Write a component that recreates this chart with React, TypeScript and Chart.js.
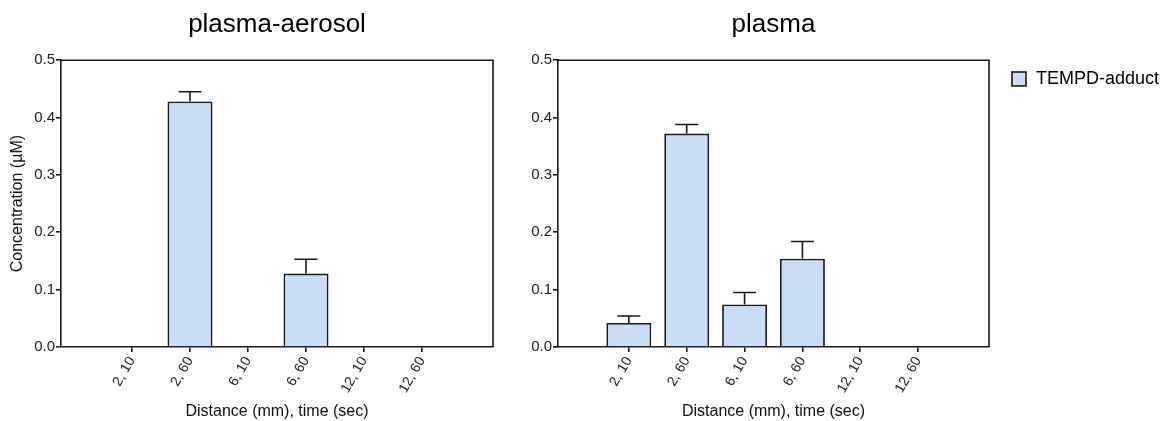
import React, { useEffect, useRef } from 'react';
import { Chart, registerables } from 'chart.js';

Chart.register(...registerables);

const categories = ['2, 10', '2, 60', '6, 10', '6, 60', '12, 10', '12, 60'];
const aerosolMeans = [0, 0.428, 0, 0.128, 0, 0];
const aerosolErrors = [0, 0.017, 0, 0.025, 0, 0];
const plasmaMeans = [0.042, 0.372, 0.074, 0.154, 0, 0];
const plasmaErrors = [0.012, 0.016, 0.021, 0.030, 0, 0];
const yTickValues = [0, 0.1, 0.2, 0.3, 0.4, 0.5];
const seriesLabel = 'TEMPD-adduct';
const panelTitles = ['plasma-aerosol', 'plasma'];
const yAxisTitle = 'Concentration (µM)';
const xAxisTitle = 'Distance (mm), time (sec)';

const FONT = "'Liberation Sans', Arial, Helvetica, sans-serif";
const FILL = 'rgb(201, 221, 246)';
const INK = '#1a1a1a';

Chart.defaults.font.family = FONT;

const errorBarPlugin = {
  id: 'errorBars',
  afterDatasetsDraw(chart: any, _args: any, opts: any) {
    const errs: number[] = opts.errors || [];
    const meta = chart.getDatasetMeta(0);
    const ys = chart.scales.y;
    const ctx = chart.ctx;
    ctx.save();
    ctx.strokeStyle = INK;
    ctx.lineWidth = 1.6;
    meta.data.forEach((bar: any, i: number) => {
      const pt = chart.data.datasets[0].data[i];
      const v = pt.y;
      const e = errs[i];
      if (!e || !v) return;
      const x = bar.x;
      const y0 = ys.getPixelForValue(v);
      const y1 = ys.getPixelForValue(v + e);
      ctx.beginPath();
      ctx.moveTo(x, y0);
      ctx.lineTo(x, y1);
      ctx.moveTo(x - 11.5, y1);
      ctx.lineTo(x + 11.5, y1);
      ctx.stroke();
    });
    ctx.restore();
  },
};

const framePlugin = {
  id: 'frame',
  afterDraw(chart: any) {
    const { left, right, top, bottom } = chart.chartArea;
    const ctx = chart.ctx;
    ctx.save();
    ctx.strokeStyle = INK;
    ctx.lineWidth = 1.6;
    ctx.beginPath();
    ctx.moveTo(left, top);
    ctx.lineTo(right, top);
    ctx.lineTo(right, bottom);
    ctx.stroke();
    ctx.restore();
  },
};

const legendPlugin = {
  id: 'sideLegend',
  afterDraw(chart: any, _args: any, opts: any) {
    if (!opts || !opts.show) return;
    const ds = chart.data.datasets[0];
    const ctx = chart.ctx;
    const right = chart.chartArea.right;
    const bx = right + opts.offsetX;
    const by = opts.y;
    const s = opts.size;
    ctx.save();
    ctx.fillStyle = ds.backgroundColor;
    ctx.fillRect(bx, by, s, s);
    ctx.strokeStyle = ds.borderColor;
    ctx.lineWidth = 1.6;
    ctx.strokeRect(bx, by, s, s);
    ctx.fillStyle = '#000';
    ctx.font = `${opts.fontSize}px ${FONT}`;
    ctx.textBaseline = 'middle';
    ctx.textAlign = 'left';
    ctx.fillText(ds.label, bx + s + 10, by + s / 2 + 0.5);
    ctx.restore();
  },
};

function makeConfig(
  title: string,
  means: number[],
  errors: number[],
  yWidth: number,
  showYTitle: boolean,
  padRight: number,
  showLegend: boolean
): any {
  const span = 432 / 58;
  const extra = (span - (categories.length - 1)) / 2;
  return {
    type: 'bar',
    data: {
      datasets: [
        {
          label: seriesLabel,
          data: means.map((v, i) => ({ x: i, y: v })),
          backgroundColor: FILL,
          borderColor: INK,
          borderWidth: 1.8,
          borderSkipped: 'start',
          barPercentage: 0.776,
          categoryPercentage: 1,
        },
      ],
    },
    options: {
      responsive: false,
      animation: false,
      layout: { padding: { left: 0, right: padRight, top: 0, bottom: 0 } },
      plugins: {
        legend: { display: false },
        tooltip: { enabled: false },
        title: {
          display: true,
          text: title,
          fullSize: false,
          color: '#000',
          font: { size: 26, weight: 'normal', family: FONT },
          padding: { top: 9, bottom: 20 },
        },
        errorBars: { errors },
        sideLegend: { show: showLegend, offsetX: 23, y: 72, size: 14, fontSize: 18 },
      },
      scales: {
        x: {
          type: 'linear',
          offset: false,
          min: -extra,
          max: categories.length - 1 + extra,
          afterBuildTicks: (scale: any) => {
            scale.ticks = categories.map((_, i) => ({ value: i }));
          },
          afterFit: (scale: any) => {
            scale.height = 74;
          },
          ticks: {
            autoSkip: false,
            minRotation: 60,
            maxRotation: 60,
            padding: 2,
            color: '#222',
            font: { size: 14 },
            callback: (v: number) => categories[Math.round(v)] ?? '',
          },
          grid: {
            display: true,
            offset: false,
            drawOnChartArea: false,
            drawTicks: true,
            tickLength: 5,
            color: INK,
            lineWidth: 1.6,
          },
          border: { display: true, color: INK, width: 1.6 },
          title: {
            display: true,
            text: xAxisTitle,
            color: '#111',
            font: { size: 16 },
            padding: { top: 0, bottom: 0 },
          },
        },
        y: {
          type: 'linear',
          min: 0,
          max: 0.5,
          afterBuildTicks: (scale: any) => {
            scale.ticks = yTickValues.map((v) => ({ value: v }));
          },
          afterFit: (scale: any) => {
            scale.width = yWidth;
          },
          ticks: {
            padding: 1,
            color: '#222',
            font: { size: 15 },
            callback: (v: number) => Number(v).toFixed(1),
          },
          grid: {
            display: true,
            drawOnChartArea: false,
            drawTicks: true,
            tickLength: 5,
            color: INK,
            lineWidth: 1.6,
          },
          border: { display: true, color: INK, width: 1.6 },
          title: {
            display: showYTitle,
            text: yAxisTitle,
            color: '#111',
            font: { size: 16 },
            padding: { top: 8, bottom: 0 },
          },
        },
      },
    },
    plugins: [errorBarPlugin, framePlugin, legendPlugin],
  };
}

export default function App() {
  const leftRef = useRef<HTMLCanvasElement | null>(null);
  const rightRef = useRef<HTMLCanvasElement | null>(null);

  useEffect(() => {
    const c1 = new Chart(
      leftRef.current as HTMLCanvasElement,
      makeConfig(panelTitles[0], aerosolMeans, aerosolErrors, 61, true, 27, false)
    );
    const c2 = new Chart(
      rightRef.current as HTMLCanvasElement,
      makeConfig(panelTitles[1], plasmaMeans, plasmaErrors, 38, false, 175, true)
    );
    return () => {
      c1.destroy();
      c2.destroy();
    };
  }, []);

  return (
    <div
      style={{
        position: 'absolute',
        left: 0,
        top: 0,
        width: 1164,
        height: 421,
        background: '#fff',
        overflow: 'hidden',
      }}
    >
      <canvas
        ref={leftRef}
        width={520}
        height={421}
        style={{ position: 'absolute', left: 0, top: 0, width: 520, height: 421 }}
      />
      <canvas
        ref={rightRef}
        width={644}
        height={421}
        style={{ position: 'absolute', left: 520, top: 0, width: 644, height: 421 }}
      />
    </div>
  );
}
